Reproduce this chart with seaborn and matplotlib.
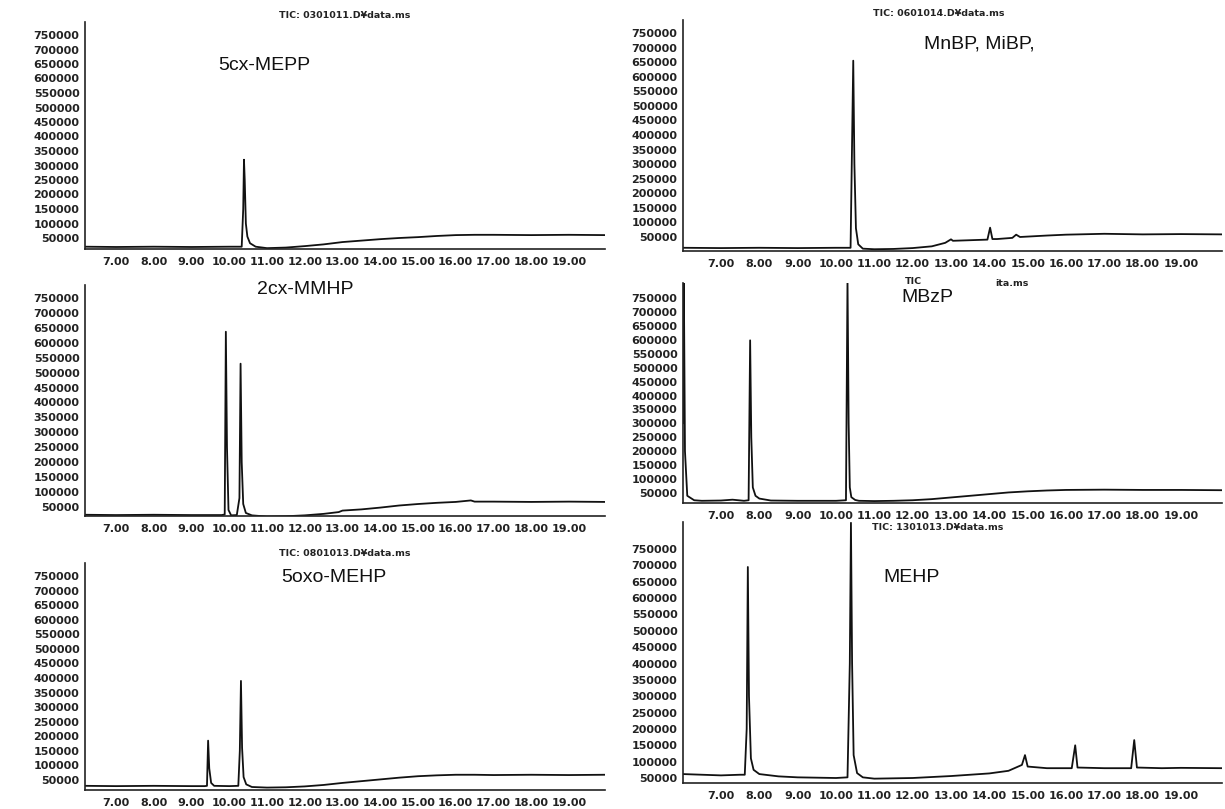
import matplotlib
matplotlib.use("Agg")
import matplotlib.pyplot as plt
import seaborn as sns
import numpy as np
from matplotlib.ticker import MultipleLocator, FixedLocator, FixedFormatter

# ---------------- data ----------------
x_ticks = [7, 8, 9, 10, 11, 12, 13, 14, 15, 16, 17, 18, 19]
x_tick_labels = ["7.00", "8.00", "9.00", "10.00", "11.00", "12.00", "13.00",
                 "14.00", "15.00", "16.00", "17.00", "18.00", "19.00"]
y_ticks = [50000, 100000, 150000, 200000, 250000, 300000, 350000, 400000,
           450000, 500000, 550000, 600000, 650000, 700000, 750000]

titles = ["TIC: 0301011.D¥data.ms", "TIC: 0601014.D¥data.ms", "",
          "", "TIC: 0801013.D¥data.ms", "TIC: 1301013.D¥data.ms"]
compounds = ["5cx-MEPP", "MnBP, MiBP,", "2cx-MMHP", "MBzP", "5oxo-MEHP", "MEHP"]

# panel 1: 5cx-MEPP
t_p1 = [6.18, 7.0, 8.0, 9.0, 10.0, 10.33, 10.37, 10.39, 10.41, 10.44, 10.48, 10.55,
        10.7, 11.0, 11.5, 12.0, 12.5, 13.0, 13.5, 14.0, 14.5, 15.0, 15.5, 16.0,
        16.5, 17.0, 18.0, 19.0, 19.95]
i_p1 = [20000, 19000, 20000, 19000, 20000, 20000, 150000, 320000, 250000, 100000,
        55000, 32000, 20000, 15000, 17000, 22000, 28000, 36000, 41000, 46000,
        50000, 53000, 57000, 60000, 61000, 61000, 60000, 61000, 60000]

# panel 2: MnBP, MiBP
t_p2 = [6.01, 7.0, 8.0, 9.0, 10.0, 10.38, 10.42, 10.45, 10.48, 10.52, 10.58, 10.7,
        11.0, 11.5, 12.0, 12.5, 12.85, 13.0, 13.05, 13.5, 13.95, 14.02, 14.08, 14.2,
        14.6, 14.7, 14.8, 15.5, 16.0, 17.0, 18.0, 19.0, 20.07]
i_p2 = [13000, 12000, 13000, 12000, 13000, 13000, 380000, 655000, 300000,
        80000, 25000, 10000, 8000, 9000, 12000, 18000, 30000, 42000, 37000,
        39000, 41000, 82000, 43000, 43000, 47000, 58000, 50000, 55000, 58000,
        61000, 59000, 60000, 59000]

# panel 3: 2cx-MMHP
t_p3 = [6.18, 7, 8, 9, 9.8, 9.88, 9.91, 9.94, 9.98, 10.05, 10.2, 10.27, 10.3, 10.33,
        10.37, 10.44, 10.6, 11, 11.5, 12, 12.5, 12.9, 13.0, 13.5, 14, 14.5, 15,
        15.5, 16.0, 16.4, 16.5, 17, 18, 19, 19.95]
i_p3 = [24000, 23000, 24000, 23000, 23000, 25000, 637000, 250000, 40000, 22000,
        23000, 80000, 530000, 200000, 60000, 30000, 22000, 18000, 19000, 22000,
        27000, 33000, 38000, 42000, 48000, 55000, 60000, 64000, 67000, 72000,
        68000, 68000, 67000, 68000, 67000]

# panel 4: MBzP
t_p4 = [6.01, 6.03, 6.06, 6.12, 6.3, 6.5, 7.0, 7.3, 7.6, 7.72, 7.76, 7.79, 7.83,
        7.9, 8.0, 8.3, 9.0, 9.5, 10.0, 10.26, 10.3, 10.33, 10.36, 10.4, 10.5, 10.6,
        11.0, 11.5, 12.0, 12.5, 13.0, 13.5, 14.0, 14.5, 15.0, 15.5, 16.0, 17.0,
        18.0, 19.0, 20.07]
i_p4 = [300000, 820000, 200000, 40000, 24000, 22000, 23000, 26000, 22000, 24000,
        598000, 250000, 70000, 40000, 30000, 23000, 22000, 22000, 22000, 24000,
        820000, 300000, 70000, 35000, 25000, 22000, 21000, 22000, 24000, 28000,
        34000, 40000, 46000, 52000, 56000, 59000, 61000, 62000, 61000, 61000, 60000]

# panel 5: 5oxo-MEHP
t_p5 = [6.18, 7, 8, 9, 9.35, 9.41, 9.44, 9.47, 9.52, 9.6, 10.0, 10.24, 10.28,
        10.31, 10.34, 10.38, 10.45, 10.6, 11, 11.5, 12, 12.5, 13, 13.5, 14, 14.5,
        15, 15.5, 16, 16.5, 17, 18, 19, 19.95]
i_p5 = [30000, 29000, 30000, 29000, 29000, 30000, 185000, 90000, 40000, 30000,
        29000, 30000, 150000, 390000, 160000, 60000, 35000, 26000, 24000, 25000,
        28000, 33000, 40000, 46000, 52000, 58000, 63000, 66000, 68000, 68000,
        67000, 68000, 67000, 68000]

# panel 6: MEHP
t_p6 = [6.01, 6.5, 7.0, 7.5, 7.62, 7.67, 7.70, 7.73, 7.78, 7.85, 8.0, 8.5, 9.0,
        10.0, 10.3, 10.36, 10.39, 10.42, 10.46, 10.55, 10.7, 11, 12, 13, 14, 14.5,
        14.85, 14.93, 15.0, 15.5, 16.15, 16.24, 16.3, 17.0, 17.7, 17.78, 17.85,
        18.5, 19.0, 20.07]
i_p6 = [62000, 60000, 58000, 60000, 60000, 200000, 695000, 300000, 110000,
        75000, 62000, 55000, 52000, 50000, 52000, 400000, 830000, 400000, 120000,
        65000, 52000, 48000, 50000, 56000, 64000, 72000, 90000, 120000, 85000,
        80000, 80000, 150000, 82000, 80000, 80000, 166000, 82000, 80000, 81000, 80000]

panel_t = [t_p1, t_p2, t_p3, t_p4, t_p5, t_p6]
panel_i = [i_p1, i_p2, i_p3, i_p4, i_p5, i_p6]

# ---------------- layout (pixels in 1225 x 809) ----------------
W, H = 1225, 809
# x0, x1, spine top, spine bottom, y-pixel of 750000 tick, y-pixel of 50000 tick
boxes = [
    (85, 605, 22, 249, 35, 238),
    (683, 1222, 20, 251, 33, 237),
    (85, 605, 285, 516, 298, 507),
    (683, 1222, 283, 503, 298, 493),
    (85, 605, 563, 790, 576, 780),
    (683, 1222, 522, 783, 549, 778),
]
# pixel of tick 7.00 and 19.00 for left / right columns
xcal = {"L": (116, 569), "R": (721, 1181)}

title_pos = [(345, 15), (939, 14), None, None, (345, 553), (938, 527)]
comp_pos = [(264, 66), (979, 44), (305, 289), (927, 297), (334, 578), (912, 577)]

sns.set_theme(style="white")
plt.rcParams["font.family"] = ["DejaVu Sans"]
fig = plt.figure(figsize=(W / 100, H / 100), dpi=100)
fig.patch.set_facecolor("white")

for k in range(6):
    x0, x1, yt, yb, y750, y50 = boxes[k]
    col = "L" if x0 < 600 else "R"
    p7, p19 = xcal[col]
    sx = (p19 - p7) / 12.0
    xmin = 7 - (p7 - x0) / sx
    xmax = 19 + (x1 - p19) / sx
    sy = (y50 - y750) / 700000.0
    ymin = 50000 - (yb - y50) / sy
    ymax = 750000 + (y750 - yt) / sy
    ax = fig.add_axes([x0 / W, 1 - yb / H, (x1 - x0) / W, (yb - yt) / H])
    sns.lineplot(x=panel_t[k], y=panel_i[k], ax=ax, color="#111111", lw=1.3,
                 estimator=None, sort=False)
    ax.set_xlim(xmin, xmax)
    ax.set_ylim(ymin, ymax)
    ax.set_facecolor("white")
    for s in ["top", "right"]:
        ax.spines[s].set_visible(False)
    ax.spines["left"].set_color("#222222")
    ax.spines["bottom"].set_color("#222222")
    ax.spines["left"].set_linewidth(1.2)
    ax.spines["bottom"].set_linewidth(1.2)
    ax.xaxis.set_major_locator(FixedLocator(x_ticks))
    ax.xaxis.set_major_formatter(FixedFormatter(x_tick_labels))
    ax.xaxis.set_minor_locator(MultipleLocator(0.1))
    ax.yaxis.set_major_locator(FixedLocator(y_ticks))
    ax.yaxis.set_major_formatter(FixedFormatter([str(v) for v in y_ticks]))
    ax.yaxis.set_minor_locator(MultipleLocator(10000))
    ax.tick_params(axis="x", which="major", length=4, width=0.8, pad=1.5,
                   labelsize=8, colors="#222222", direction="out")
    ax.tick_params(axis="x", which="minor", length=2, width=0.6, direction="out")
    ax.tick_params(axis="y", which="major", length=3, width=0.8, pad=1,
                   labelsize=8, colors="#222222", direction="out")
    ax.tick_params(axis="y", which="minor", length=1.5, width=0.5, direction="out")
    for lab in ax.get_xticklabels() + ax.get_yticklabels():
        lab.set_fontweight("bold")
    ax.set_xlabel("")
    ax.set_ylabel("")
    ax.grid(False)

    if title_pos[k] is not None:
        tx, ty = title_pos[k]
        fig.text(tx / W, 1 - ty / H, titles[k], ha="center", va="center",
                 fontsize=6.8, fontweight="bold", color="#222222")
    cx, cy = comp_pos[k]
    fig.text(cx / W, 1 - cy / H, compounds[k], ha="center", va="center",
             fontsize=14, family="Liberation Sans", color="#111111")

# partially hidden title of the MBzP panel
fig.text(913 / W, 1 - 282 / H, "TIC", ha="center", va="center", fontsize=6.8,
         fontweight="bold", color="#222222")
fig.text(1012 / W, 1 - 283 / H, "ita.ms", ha="center", va="center", fontsize=6.8,
         fontweight="bold", color="#222222")

fig.savefig("out.png", dpi=100, facecolor="white")
